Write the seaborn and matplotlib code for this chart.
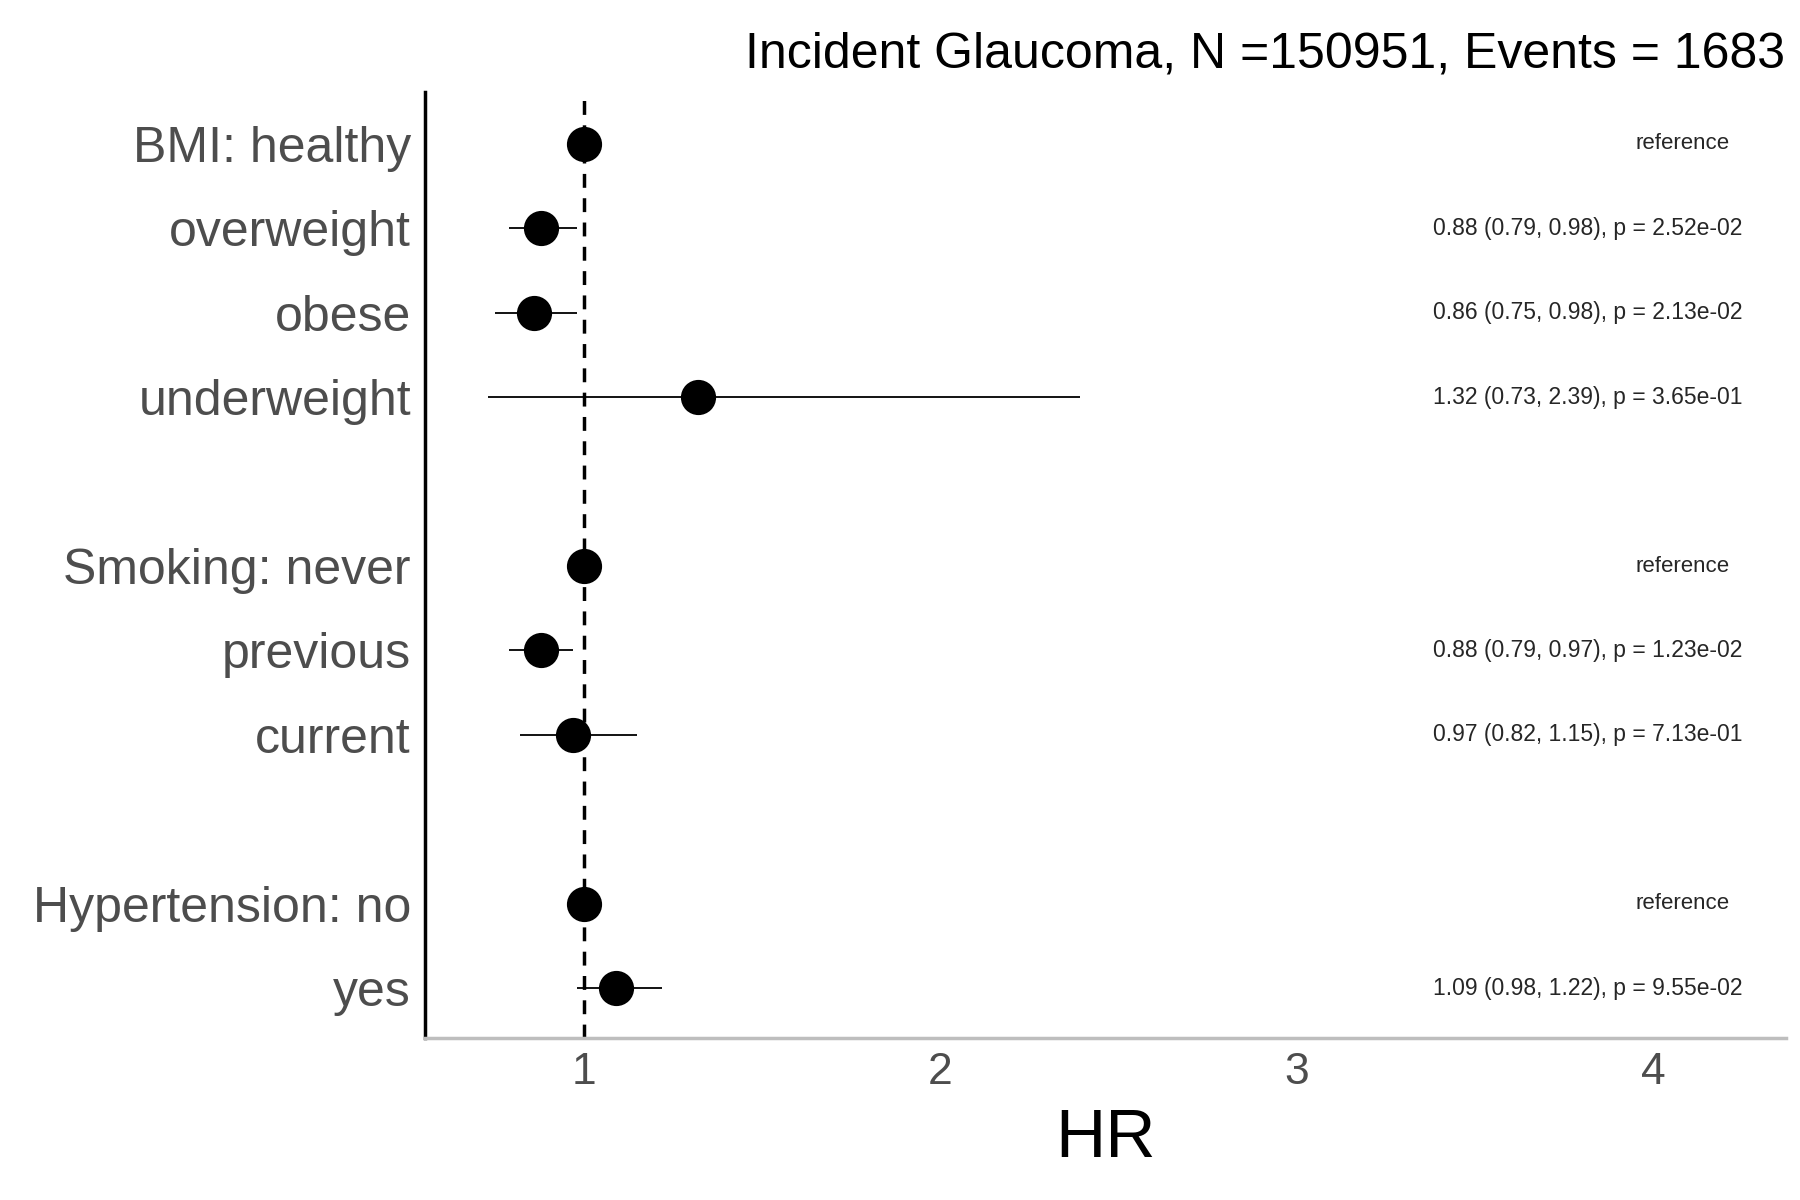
import numpy as np
import pandas as pd
import matplotlib
matplotlib.use("Agg")
import matplotlib.pyplot as plt
import seaborn as sns

labels = ["BMI: healthy", "overweight", "obese", "underweight",
          "Smoking: never", "previous", "current",
          "Hypertension: no", "yes"]
rows = [0, 1, 2, 3, 5, 6, 7, 9, 10]
hr = [1.0, 0.88, 0.86, 1.32, 1.0, 0.88, 0.97, 1.0, 1.09]
lo = [1.0, 0.79, 0.75, 0.73, 1.0, 0.79, 0.82, 1.0, 0.98]
hi = [1.0, 0.98, 0.98, 2.39, 1.0, 0.97, 1.15, 1.0, 1.22]
pvals = [None, "2.52e-02", "2.13e-02", "3.65e-01", None, "1.23e-02", "7.13e-01", None, "9.55e-02"]

df = pd.DataFrame({"label": labels, "row": rows, "hr": hr, "lo": lo, "hi": hi, "p": pvals})

sns.set_style("white")
plt.rcParams['font.family'] = ['Liberation Sans', 'DejaVu Sans']

fig = plt.figure(figsize=(18, 12), dpi=100)
ax = fig.add_axes([0.236, 0.135, 0.756, 0.788])

ax.hlines(df['row'], df['lo'], df['hi'], color='black', lw=1.3)
sns.scatterplot(data=df, x='hr', y='row', ax=ax, color='black', s=550, edgecolor='black', zorder=3)
ax.axvline(1, color='black', ls='--', lw=2.5, dashes=(4, 3))

for _, r in df.iterrows():
    if r['p'] is None:
        ax.text(4.08, r['row'], "reference", ha='center', va='center', fontsize=16)
    else:
        ax.text(3.38, r['row'], f"{r['hr']:.2f} ({r['lo']:.2f}, {r['hi']:.2f}), p = {r['p']}",
                ha='left', va='center', fontsize=16.5)

ax.set_xlim(0.554, 4.37)
ax.set_ylim(10.59, -0.61)
ax.set_yticks(rows)
ax.set_yticklabels(labels, fontsize=36, color='#4d4d4d')
ax.set_xticks([1, 2, 3, 4])
ax.set_xticklabels(["1", "2", "3", "4"], fontsize=32, color='#4d4d4d')
ax.tick_params(length=0, pad=10)
ax.set_xlabel("HR", fontsize=50, labelpad=10, color='black')
ax.set_ylabel("")
ax.set_title("Incident Glaucoma, N =150951, Events = 1683", loc='right', fontsize=36, pad=18, color='black')

for s in ['top', 'right']:
    ax.spines[s].set_visible(False)
ax.spines['left'].set_color('black')
ax.spines['left'].set_linewidth(2.5)
ax.spines['bottom'].set_color('#bebebe')
ax.spines['bottom'].set_linewidth(2.5)

fig.savefig("out.png", dpi=100)
